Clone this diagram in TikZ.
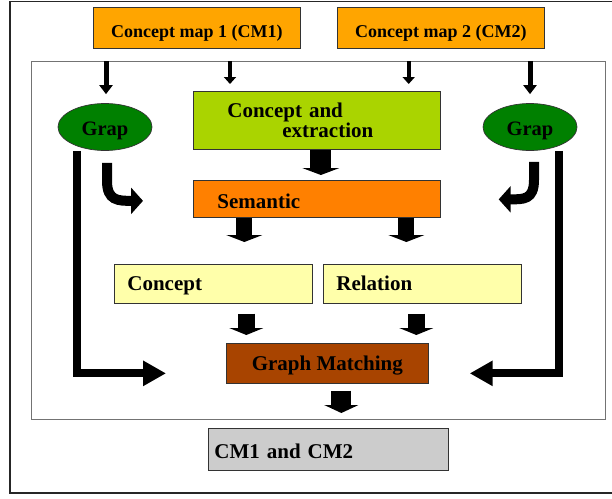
\documentclass[tikz,border=0pt]{standalone}
\usepackage{fontspec}
\setmainfont{Liberation Serif}
\usetikzlibrary{arrows.meta,calc,shapes.geometric}
\definecolor{cmor}{HTML}{FFA500}
\definecolor{caeg}{HTML}{AAD400}
\definecolor{semor}{HTML}{FF8000}
\definecolor{lyel}{HTML}{FFFFAA}
\definecolor{gmbr}{HTML}{A84400}
\definecolor{outgr}{HTML}{CCCCCC}
\definecolor{grapg}{HTML}{008000}
\begin{document}
\begin{tikzpicture}[x=1pt,y=-1pt,
  box/.style={draw=black!80, line width=0.7pt, rectangle, inner ysep=0pt, anchor=north west},
  tA/.style={font=\bfseries\fontsize{18}{20}\selectfont},
  tB/.style={font=\bfseries\fontsize{21}{20}\selectfont},
  grap/.style={ellipse, draw=black!80, line width=0.7pt, fill=grapg, minimum width=94pt, minimum height=47pt, inner sep=0pt, font=\bfseries\fontsize{20.5}{22}\selectfont, text height=17pt, text depth=1pt},
  ab/.style args={#1/#2/#3}{line width=#1pt, -{Triangle[width=#2pt,length=#3pt]}},
  elb/.style={line width=8pt, line join=miter, -{Triangle[width=24pt,length=23pt]}},
  crv/.style={line width=10pt, -{Triangle[width=26pt,length=12pt]}}
]
\useasboundingbox (0,0) rectangle (612,498);
% frames
\draw[line width=1.5pt, black!85] (10,1.5) rectangle (640,493);
\node[draw=black!55, line width=0.8pt, minimum width=574pt, minimum height=358pt, inner sep=0pt, anchor=north west] (frame) at (31,61) {};
% boxes
\node[box, fill=cmor, tA, minimum width=207pt, minimum height=41pt, text height=18.4pt, text depth=0pt] (cm1) at (93,7) {Concept map 1 (CM1)};
\node[box, fill=cmor, tA, minimum width=207pt, minimum height=41pt, text height=18.4pt, text depth=0pt] (cm2) at (337,7) {Concept map 2 (CM2)};
\node[box, fill=caeg, tB, text width=179pt, inner xsep=34pt, minimum height=58pt, align=left] (cae) at (193,91) {Concept and\\\hspace*{55pt}extraction};
\node[box, fill=semor, tB, text width=199pt, inner xsep=24pt, minimum height=37pt, align=left, text height=19pt, text depth=0pt] (sem) at (193,180) {Semantic};
\node[box, fill=lyel, tB, text width=172pt, inner xsep=13pt, minimum height=39pt, align=left, text height=16pt, text depth=3pt] (con) at (114,264) {Concept};
\node[box, fill=lyel, tB, text width=172pt, inner xsep=13pt, minimum height=39pt, align=left, text height=16pt, text depth=3pt] (rel) at (323,264) {Relation};
\node[box, fill=gmbr, tB, minimum width=202pt, minimum height=40pt, text height=16.5pt, text depth=2.5pt] (gm) at (226,343) {Graph Matching};
\node[box, fill=outgr, tB, text width=228pt, inner xsep=6pt, minimum height=42pt, align=left, text height=18.5pt, text depth=0.5pt] (out) at (208,428) {CM1 and CM2};
\node[grap] (gl) at (105,127) {Grap};
\node[grap] (gr) at (530,127) {Grap};
% arrow end points
\coordinate (t1) at ($(gl.north)+(1,-9)$);
\coordinate (t2) at ($(cae.north west)+(37,-7)$);
\coordinate (t3) at ($(cae.north east)+(-32,-7)$);
\coordinate (t4) at ($(gr.north)+(0,-9)$);
\coordinate (t6) at ($(con.north)+(31,-22)$);
\coordinate (t7) at ($(rel.north)+(-16,-22)$);
\coordinate (t8) at ($(gm.north)+(-81,-8)$);
\coordinate (t9) at ($(gm.north)+(89,-8)$);
\coordinate (t10) at ($(out.north)+(13,-15)$);
\coordinate (s11) at ($(gl.south)+(-28,0)$);
\coordinate (t11) at ($(gm.west)+(-60,10)$);
\coordinate (s12) at ($(gr.south)+(29,0)$);
\coordinate (t12) at ($(gm.east)+(41,10)$);
\coordinate (s13) at ($(gl.south)+(2,12)$);
\coordinate (t13) at ($(sem.west)+(-50,2)$);
\coordinate (s14) at ($(gr.south)+(4,11)$);
\coordinate (t14) at ($(sem.east)+(58,0.5)$);
% arrows
\draw[ab=5/13/9] (frame.north -| t1) -- (t1);
\draw[ab=4/12/7] (frame.north -| t2) -- (t2);
\draw[ab=4/12/7] (frame.north -| t3) -- (t3);
\draw[ab=5/13/9] (frame.north -| t4) -- (t4);
\draw[ab=21/37/7] ($(cae.south)+(4,0)$) -- ($(sem.north)+(4,-5)$);
\draw[ab=16/36/7] (sem.south -| t6) -- (t6);
\draw[ab=16/36/7] (sem.south -| t7) -- (t7);
\draw[ab=17/34/7] ($(con.south -| t8)+(0,10)$) -- (t8);
\draw[ab=17/34/7] ($(rel.south -| t9)+(0,10)$) -- (t9);
\draw[ab=20/34/8] ($(gm.south -| t10)+(0,7)$) -- (t10);
\draw[elb] (s11) |- (t11);
\draw[elb] (s12) |- (t12);
\draw[crv] (s13) -- ++(0,18) .. controls +(0,20) and +(-25,0) .. (t13);
\draw[crv] (s14) -- ++(0,18) .. controls +(0,20) and +(25,0) .. (t14);
\end{tikzpicture}
\end{document}
